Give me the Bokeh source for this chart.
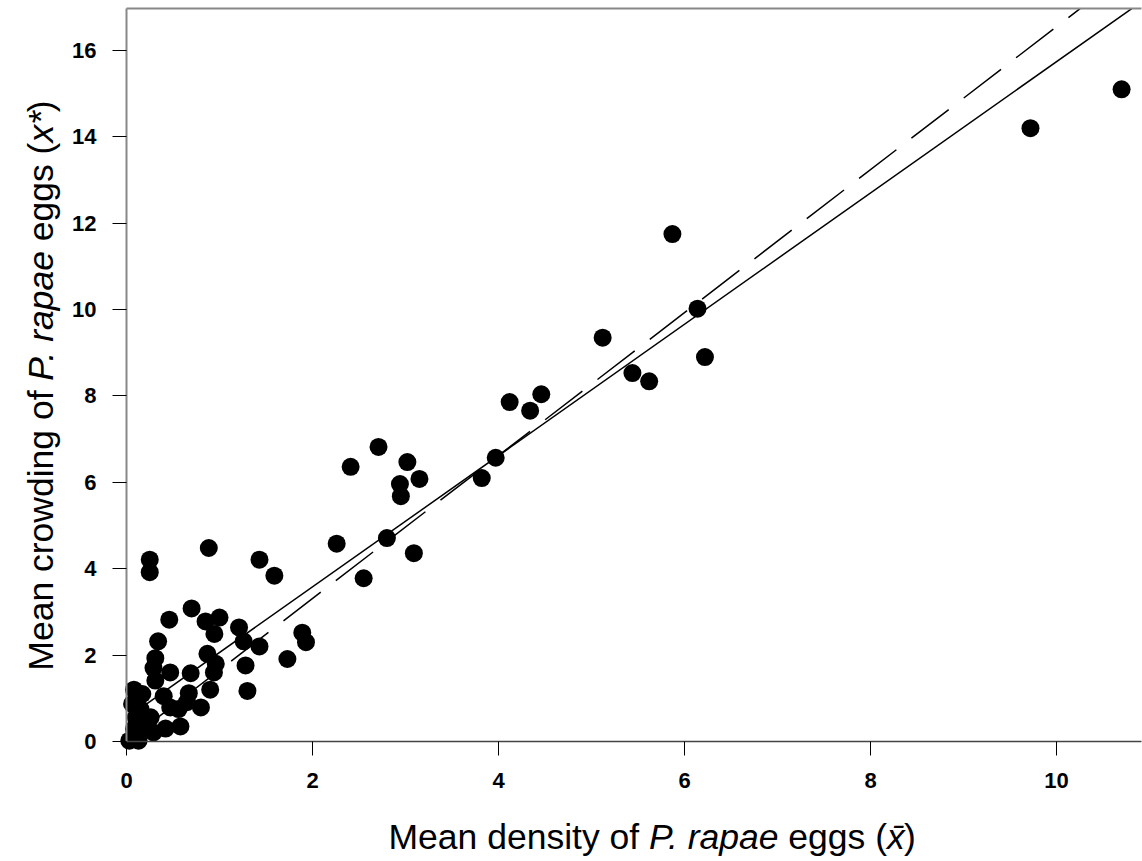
import math
import numpy as np
from bokeh.plotting import figure
from bokeh.models import Range1d, Label, FixedTicker, LinearAxis
from bokeh.embed import file_html
from bokeh.resources import INLINE

# ---------------- data ----------------
mean_density = [
    0.03, 0.13, 0.08, 0.10, 0.06, 0.08, 0.17, 0.26, 0.29, 0.42, 0.58, 0.40,
    0.47, 0.56, 0.65, 0.80, 0.67, 0.69, 0.47, 0.31, 0.29, 0.31, 0.34, 0.46,
    0.70, 0.85, 1.00, 0.945, 1.21, 1.26, 1.43, 0.87, 0.96, 0.94, 0.90, 1.28,
    1.30, 1.73, 1.89, 1.93, 0.25, 0.25, 0.885, 1.43, 1.59, 2.26, 0.15, 0.20,
    2.55, 2.80, 3.09, 2.41, 2.71, 3.02, 3.15, 2.94, 2.95, 3.82, 3.97, 4.12,
    4.34, 4.46, 5.12, 5.44, 5.62, 5.87, 6.14, 6.22, 9.72, 10.70,
]
mean_crowding = [
    0.02, 0.02, 0.29, 0.56, 0.87, 1.20, 1.10, 0.56, 0.21, 0.30, 0.35, 1.05,
    0.79, 0.75, 0.91, 0.79, 1.12, 1.58, 1.60, 1.41, 1.70, 1.93, 2.32, 2.82,
    3.08, 2.78, 2.87, 2.49, 2.64, 2.32, 2.20, 2.03, 1.80, 1.60, 1.20, 1.76,
    1.17, 1.91, 2.52, 2.30, 4.21, 3.92, 4.48, 4.21, 3.84, 4.58, 0.75, 0.35,
    3.78, 4.71, 4.36, 6.36, 6.82, 6.47, 6.08, 5.96, 5.68, 6.10, 6.57, 7.86,
    7.66, 8.04, 9.35, 8.53, 8.34, 11.75, 10.02, 8.90, 14.20, 15.10,
]
x_ticks = [0, 2, 4, 6, 8, 10]
y_ticks = [0, 2, 4, 6, 8, 10, 12, 14, 16]
solid_fit = (0.54, 1.52)     # intercept, slope (solid regression line)
dashed_fit = (0.0, 1.655)    # intercept, slope (dashed line)
x_axis_max = 10.91
y_axis_max = 16.97

# ---------------- layout ----------------
W, H = 1142, 861
px_x = 93.0           # pixels per x unit
px_y = 43.19          # pixels per y unit
origin_px = (126.0, 741.0)
x_start = -origin_px[0] / px_x
x_end = x_start + W / px_x
y_start = -(H - origin_px[1]) / px_y
y_end = y_start + H / px_y


def to_data(px, py):
    return (x_start + px / px_x, y_start + (H - py) / px_y)


p = figure(width=W, height=H, output_backend="svg", toolbar_location=None,
           x_range=Range1d(x_start, x_end), y_range=Range1d(y_start, y_end),
           min_border=0, min_border_left=0, min_border_right=0, min_border_top=0,
           min_border_bottom=0, title=None)
p.outline_line_color = None
p.grid.visible = False
p.background_fill_color = "white"
p.border_fill_color = "white"

for ax in (p.xaxis[0], p.yaxis[0]):
    ax.fixed_location = 0
    ax.major_label_text_font = "Liberation Sans"
    ax.major_label_text_font_style = "bold"
    ax.major_label_text_font_size = "22px"
    ax.major_label_text_color = "black"
    ax.major_tick_in = 0
    ax.major_tick_out = 14
    ax.major_tick_line_color = "black"
    ax.major_tick_line_width = 1
    ax.minor_tick_line_color = None

p.xaxis[0].ticker = FixedTicker(ticks=x_ticks)
p.yaxis[0].ticker = FixedTicker(ticks=y_ticks)
p.xaxis[0].bounds = (0, x_axis_max)
p.yaxis[0].bounds = (0, y_axis_max)
p.xaxis[0].major_label_standoff = 17
p.yaxis[0].major_label_standoff = 16
p.xaxis[0].axis_line_color = "#444444"
p.xaxis[0].axis_line_width = 1.5
p.yaxis[0].axis_line_color = "#888888"
p.yaxis[0].axis_line_width = 2

# top border as an empty axis
top = LinearAxis(fixed_location=y_axis_max, bounds=(0, x_axis_max),
                 ticker=FixedTicker(ticks=[]), axis_line_color="#888888",
                 axis_line_width=2, major_tick_line_color=None,
                 minor_tick_line_color=None, major_label_text_font_size="0px")
p.add_layout(top, "above")

# regression lines, ending at the top border
for (a, b), dash in ((solid_fit, "solid"), (dashed_fit, "47 19")):
    x1 = min((y_axis_max - a) / b, x_axis_max)
    fx = np.array([0.0, x1])
    p.line(fx, a + b * fx, line_color="black", line_width=1.5, line_dash=dash)

# points
p.scatter(mean_density, mean_crowding, size=18, fill_color="black", line_color=None)

# ---------------- axis titles with mixed styles ----------------
ARIAL = {' ': 278, 'M': 833, 'e': 556, 'a': 556, 'n': 556, 'd': 556, 's': 500,
         'i': 222, 't': 278, 'y': 500, 'o': 556, 'f': 278, 'P': 667, '.': 278,
         'r': 333, 'p': 556, 'g': 556, '(': 333, ')': 333, 'x': 500, 'c': 500,
         'w': 722, '*': 389, '\u0304': 0}


def text_w(s, size, style="normal"):
    f = 0.965 if style == "italic" else 1.0
    return sum(ARIAL.get(ch, 556) for ch in s) / 1000.0 * size * f


FS = 35.5
x_title = [("Mean density of ", "normal"), ("P. rapae", "italic"),
           (" eggs (", "normal"), ("x\u0304", "italic"), (")", "normal")]
y_title = [("Mean crowding of ", "normal"), ("P. rapae", "italic"),
           (" eggs (", "normal"), ("x*", "italic"), (")", "normal")]


def add_piece(txt, style, px, py, angle):
    xd, yd = to_data(px, py)
    p.add_layout(Label(x=xd, y=yd, angle=angle, text=txt,
                       text_font="Liberation Sans", text_font_size=f"{FS}px",
                       text_font_style=style, text_align="left",
                       text_baseline="alphabetic", text_color="black"))


# x title (horizontal), left start and baseline in pixels
cur = 388.0
base_y = 836.0
for txt, style in x_title:
    lead = text_w(txt[:len(txt) - len(txt.lstrip())], FS)
    add_piece(txt.strip(), style, cur + lead, base_y, 0.0)
    cur += text_w(txt, FS, style)

# y title (rotated, reading bottom to top)
total = sum(text_w(t, FS, s) for t, s in y_title)
cur = 385.0 + total / 2.0
base_x = 40.0
for txt, style in y_title:
    lead = text_w(txt[:len(txt) - len(txt.lstrip())], FS)
    add_piece(txt.strip(), style, base_x, cur - lead, math.pi / 2)
    cur -= text_w(txt, FS, style)

open("out.html", "w").write(file_html(p, INLINE))
